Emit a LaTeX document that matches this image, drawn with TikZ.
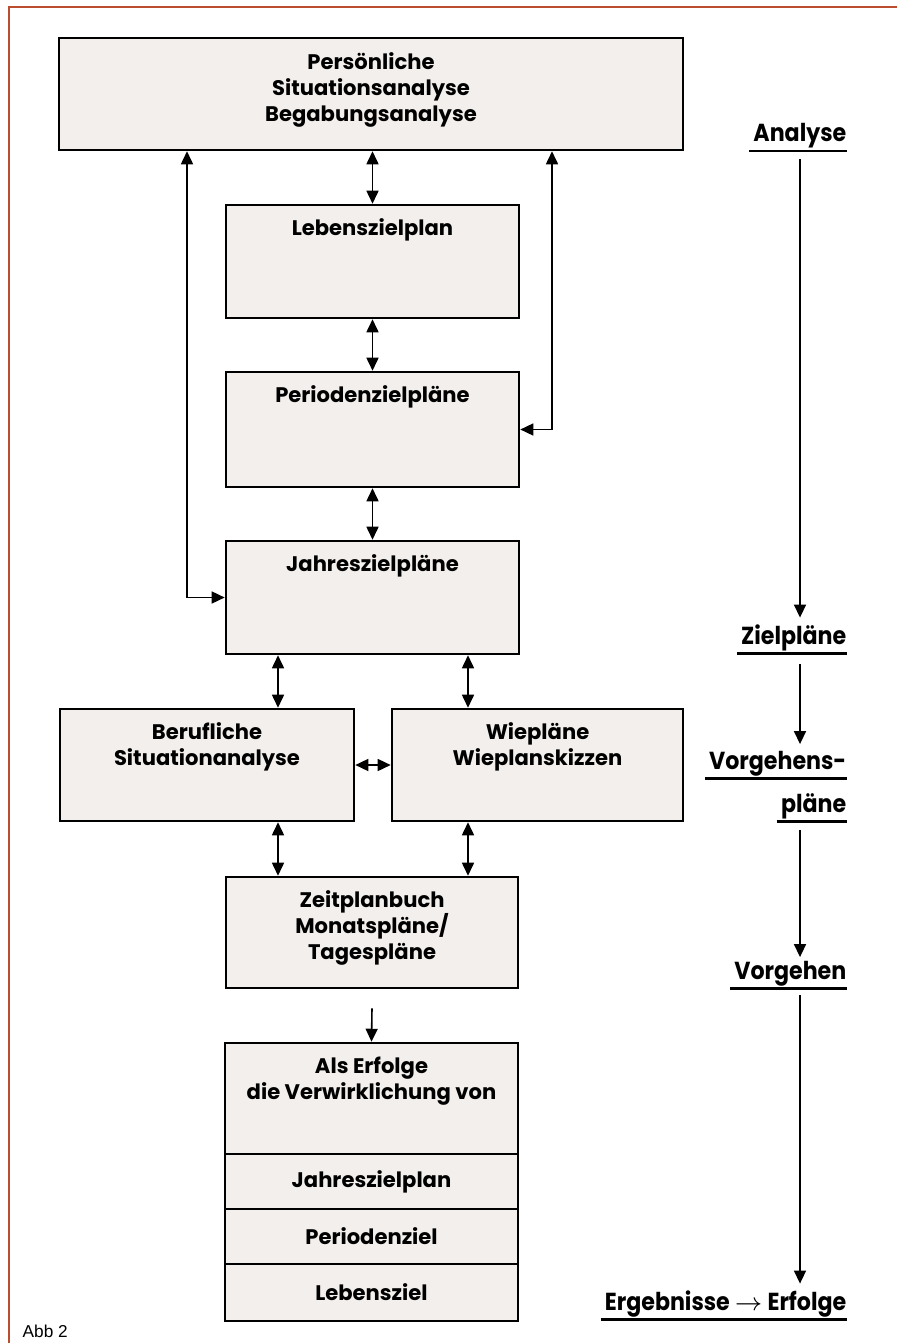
\documentclass[tikz,border=0pt]{standalone}
\usepackage{fontspec}
\setmainfont{Poppins}
\newfontfamily\stagefont[FakeStretch=0.9]{Poppins}
\newfontfamily\abbfont{Liberation Sans}
\usetikzlibrary{arrows.meta,positioning}
\definecolor{boxfill}{RGB}{243,239,236}
\definecolor{pageline}{RGB}{188,78,48}
\tikzset{
  plan/.style={draw, line width=0.7pt, fill=boxfill, inner sep=0pt},
  plantext/.style={anchor=north, align=center, inner sep=0pt,
    font=\bfseries\fontsize{6}{7.4}\selectfont},
  stage/.style={anchor=base east, inner sep=0pt,
    font=\stagefont\bfseries\fontsize{7}{8}\selectfont},
  uline/.style={line width=0.85pt},
  both/.style={{Triangle[length=0.13cm,width=0.12cm]}-{Triangle[length=0.13cm,width=0.12cm]}, line width=0.45pt},
  one/.style={-{Triangle[length=0.13cm,width=0.12cm]}, line width=0.45pt}
}
\begin{document}
\begin{tikzpicture}[x=0.01cm,y=-0.01cm]
\useasboundingbox (0,0) rectangle (897,1343);
\draw[pageline, line width=0.6pt] (897,7) -- (9,7) -- (9,1343);

\node[plan, minimum width=6.24cm, minimum height=1.12cm] (pers) at (371,94) {};
\node[plantext, below=0.15cm of pers.north] (perst) {Persönliche\\Situationsanalyse\\Begabungsanalyse};
\node[plan, minimum width=2.93cm, minimum height=1.13cm] (lzp) at (372.5,261.5) {};
\node[plantext, below=0.14cm of lzp.north] (lzpt) {Lebenszielplan};
\node[plan, minimum width=2.93cm, minimum height=1.15cm] (pzp) at (372.5,429.5) {};
\node[plantext, below=0.14cm of pzp.north] (pzpt) {Periodenzielpläne};
\node[plan, minimum width=2.93cm, minimum height=1.13cm] (jzp) at (372.5,597.5) {};
\node[plantext, below=0.14cm of jzp.north] (jzpt) {Jahreszielpläne};
\node[plan, minimum width=2.94cm, minimum height=1.12cm] (beruf) at (207,765) {};
\node[plantext, below=0.14cm of beruf.north] (beruft) {Berufliche\\Situationanalyse};
\node[plan, minimum width=2.91cm, minimum height=1.12cm] (wie) at (537.5,765) {};
\node[plantext, below=0.14cm of wie.north] (wiet) {Wiepläne\\Wieplanskizzen};
\node[plan, minimum width=2.92cm, minimum height=1.11cm] (zeit) at (372,932.5) {};
\node[plantext, below=0.14cm of zeit.north] (zeitt) {Zeitplanbuch\\Monatspläne/\\Tagespläne};
\node[plan, minimum width=2.93cm, minimum height=1.11cm] (erf) at (371.5,1098.5) {};
\node[plantext, below=0.14cm of erf.north] (erft) {Als Erfolge\\die Verwirklichung von};
\node[plan, minimum width=2.93cm, minimum height=0.55cm, below=-0.7pt of erf, font=\bfseries\fontsize{6}{7.4}\selectfont] (ejz) {Jahreszielplan};
\node[plan, minimum width=2.93cm, minimum height=0.55cm, below=-0.7pt of ejz, font=\bfseries\fontsize{6}{7.4}\selectfont] (epz) {Periodenziel};
\node[plan, minimum width=2.93cm, minimum height=0.57cm, below=-0.7pt of epz, font=\bfseries\fontsize{6}{7.4}\selectfont] (els) {Lebensziel};

\coordinate (lx) at (187,0);
\coordinate (rx) at (552,0);
\coordinate (cl) at (278,0);
\coordinate (cr) at (468,0);
\draw[both] (pers.south -| lx) |- (jzp.west);
\draw[both] (pers.south -| rx) |- (pzp.east);
\draw[both] (pers.south -| lzp.north) -- (lzp.north);
\draw[both] (lzp.south) -- (pzp.north);
\draw[both] (pzp.south) -- (jzp.north);
\draw[both] (jzp.south -| cl) -- (beruf.north -| cl);
\draw[both] (jzp.south -| cr) -- (wie.north -| cr);
\draw[both] (beruf.east) -- (wie.west);
\draw[both] (beruf.south -| cl) -- (zeit.north -| cl);
\draw[both] (wie.south -| cr) -- (zeit.north -| cr);
\draw[one] ([yshift=-0.19cm]zeit.south) -- (erf.north);

\node[stage] (an) at (847,142) {Analyse};
\node[stage] (zp) at (847,644) {Zielpläne};
\node[stage] (vp) at (847,769) {Vorgehens-};
\node[stage] (vpl) at (847,812) {pläne};
\node[stage] (vg) at (847,979) {Vorgehen};
\node[stage] (ee) at (847,1310) {Ergebnisse$\,\rightarrow\,$Erfolge};
\foreach \s in {an,zp,vp,vpl,vg,ee}
  \draw[uline] ([yshift=-0.09cm,xshift=-1pt]\s.base west) -- ([yshift=-0.09cm]\s.base east);
\coordinate (rc) at (800,0);
\draw[one, shorten <=0.17cm, shorten >=0.06cm] (an.base -| rc) -- (zp.north -| rc);
\draw[one, shorten <=0.2cm, shorten >=0.06cm] (zp.base -| rc) -- (vp.north -| rc);
\draw[one, shorten <=0.18cm, shorten >=0.03cm] (vpl.base -| rc) -- (vg.north -| rc);
\draw[one, shorten <=0.16cm, shorten >=0.06cm] (vg.base -| rc) -- (ee.north -| rc);

\node[anchor=base west, inner sep=0pt, font=\abbfont\fontsize{4.9}{5}\selectfont] (abb) at (22,1337) {Abb 2};
\end{tikzpicture}
\end{document}
